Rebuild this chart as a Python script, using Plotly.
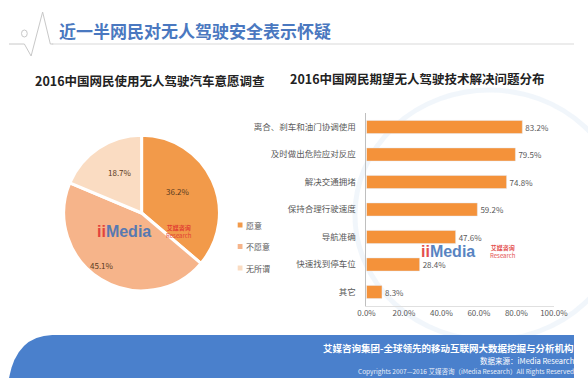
import plotly.graph_objects as go

W, H = 588, 378

title_text = "近一半网民对无人驾驶安全表示怀疑"
pie_title = "2016中国网民使用无人驾驶汽车意愿调查"
bar_title = "2016中国网民期望无人驾驶技术解决问题分布"

pie_labels = ["愿意", "不愿意", "无所谓"]
pie_values = [36.2, 45.1, 18.7]
pie_colors = ["#F29A4A", "#F6B48A", "#FADCC2"]

bar_categories = ["离合、刹车和油门协调使用", "及时做出危险应对反应", "解决交通拥堵",
                  "保持合理行驶速度", "导航准确", "快速找到停车位", "其它"]
bar_values = [83.2, 79.5, 74.8, 59.2, 47.6, 28.4, 8.3]
x_tickvals = [0, 20, 40, 60, 80, 100]
x_ticktext = ["0.0%", "20.0%", "40.0%", "60.0%", "80.0%", "100.0%"]

footer_lines = ["艾媒咨询集团-全球领先的移动互联网大数据挖掘与分析机构",
                "数据来源：iMedia Research",
                "Copyrights 2007—2016 艾媒咨询（iMedia Research）All Rights Reserved"]

FONT = "Noto Sans CJK SC, Noto Sans, sans-serif"


def px(x):
    return x / W


def py(y):
    return 1 - y / H


fig = go.Figure()

fig.add_trace(go.Pie(
    labels=pie_labels, values=pie_values, sort=False, direction="clockwise", rotation=0,
    marker=dict(colors=pie_colors, line=dict(color="white", width=3)),
    textinfo="none",
    domain=dict(x=[px(57), px(219)], y=[py(294), py(132)]),
    showlegend=False, hoverinfo="label+percent",
))

fig.add_trace(go.Bar(
    y=bar_categories, x=bar_values, orientation="h",
    marker=dict(color="#F4923A"),
    texttemplate="%{x:.1f}%", textposition="outside",
    textfont=dict(size=8, color="#595959", family=FONT),
    cliponaxis=False, showlegend=False, xaxis="x", yaxis="y",
))

shapes = []
# faint background swirl
shapes.append(dict(type="circle", xref="paper", yref="paper", x0=px(360), x1=px(640), y0=py(340), y1=py(90),
                   line=dict(color="rgba(225,235,246,0.45)", width=5), layer="below"))
# header line
shapes.append(dict(type="line", xref="paper", yref="paper", x0=px(45), x1=px(588), y0=py(44), y1=py(44),
                   line=dict(color="#D9D9D9", width=1)))
# heartbeat icon
path = "M {} {} L {} {} L {} {} L {} {} L {} {} L {} {}".format(
    px(0), py(44), px(16), py(44), px(23), py(56), px(35), py(12), px(43), py(44), px(46), py(44))
shapes.append(dict(type="path", xref="paper", yref="paper", path=path, line=dict(color="#C8C8C8", width=1)))
shapes.append(dict(type="circle", xref="paper", yref="paper", x0=px(13), x1=px(19), y0=py(37), y1=py(30),
                   line=dict(color="#C8C8C8", width=1)))
# footer band
fpath = "M {} {} Q {} {} {} {} L {} {} L {} {} Z".format(
    px(0), py(378), px(8), py(336), px(45), py(335), px(588), py(335), px(588), py(378))
shapes.append(dict(type="path", xref="paper", yref="paper", path=fpath, fillcolor="#4A80CC",
                   line=dict(width=0), layer="below"))
# legend squares
for i, c in enumerate(pie_colors):
    yc = 225 + i * 21.5
    shapes.append(dict(type="rect", xref="paper", yref="paper", x0=px(238), x1=px(243), y0=py(yc + 2.5),
                       y1=py(yc - 2.5), fillcolor=c, line=dict(width=0)))

annotations = []
annotations.append(dict(text="<b>" + title_text + "</b>", x=px(50), y=py(31), xref="paper", yref="paper",
                        xanchor="left", yanchor="middle", showarrow=False,
                        font=dict(size=17, color="#4A78C0", family=FONT)))
annotations.append(dict(text="<b>" + pie_title + "</b>", x=px(147), y=py(80), xref="paper", yref="paper",
                        xanchor="center", yanchor="middle", showarrow=False,
                        font=dict(size=12.5, color="#222222", family=FONT)))
annotations.append(dict(text="<b>" + bar_title + "</b>", x=px(425), y=py(79), xref="paper", yref="paper",
                        xanchor="center", yanchor="middle", showarrow=False,
                        font=dict(size=12.5, color="#222222", family=FONT)))
# pie value labels
pie_label_pos = [(176, 191), (97, 265), (115, 172)]
for v, (lx, ly) in zip(pie_values, pie_label_pos):
    annotations.append(dict(text="%.1f%%" % v, x=px(lx), y=py(ly), xref="paper", yref="paper",
                            xanchor="center", yanchor="middle", showarrow=False,
                            font=dict(size=8, color="#5A3A20", family=FONT)))
for i, lab in enumerate(pie_labels):
    yc = 225 + i * 21.5
    annotations.append(dict(text=lab, x=px(245), y=py(yc), xref="paper", yref="paper",
                            xanchor="left", yanchor="middle", showarrow=False,
                            font=dict(size=8, color="#595959", family=FONT)))
# watermarks
for (wx, wy) in [(89, 231), (427, 251)]:
    annotations.append(dict(text="<b><span style='color:#E03030'>ii</span>Media</b>", x=px(wx), y=py(wy),
                            xref="paper", yref="paper", xanchor="left", yanchor="middle", showarrow=False,
                            font=dict(size=16, color="#3B6FB8", family="Arial, sans-serif"), opacity=0.85))
    annotations.append(dict(text="<b>艾媒咨询</b><br>Research", x=px(wx + 72), y=py(wy), xref="paper",
                            yref="paper", xanchor="left", yanchor="middle", showarrow=False,
                            font=dict(size=6, color="#E03030", family=FONT), opacity=0.85))
# footer
annotations.append(dict(text="<b>" + footer_lines[0] + "</b>", x=px(590), y=py(348), xref="paper", yref="paper",
                        xanchor="right", yanchor="middle", showarrow=False,
                        font=dict(size=9.5, color="white", family=FONT)))
annotations.append(dict(text=footer_lines[1], x=px(590), y=py(360), xref="paper", yref="paper",
                        xanchor="right", yanchor="middle", showarrow=False,
                        font=dict(size=7.5, color="white", family=FONT)))
annotations.append(dict(text=footer_lines[2], x=px(590), y=py(371), xref="paper", yref="paper",
                        xanchor="right", yanchor="middle", showarrow=False,
                        font=dict(size=6.5, color="#E8EEF8", family=FONT)))

fig.update_layout(
    width=W, height=H, margin=dict(l=0, r=0, t=0, b=0),
    paper_bgcolor="white", plot_bgcolor="rgba(0,0,0,0)",
    font=dict(family=FONT),
    shapes=shapes, annotations=annotations,
    bargap=0.52,
    xaxis=dict(domain=[px(372), px(567)], range=[0, 100], tickvals=x_tickvals, ticktext=x_ticktext,
               showgrid=False, zeroline=False, showline=True, linecolor="#E0E0E0", linewidth=1,
               tickfont=dict(size=8, color="#595959", family=FONT), ticks="", anchor="y", fixedrange=True),
    yaxis=dict(domain=[py(305.75), py(113.25)], autorange="reversed", showgrid=False, zeroline=False,
               showline=True, linecolor="#BFBFBF", linewidth=1, ticks="", ticklabelstandoff=8,
               tickfont=dict(size=8.5, color="#595959", family=FONT), anchor="x", fixedrange=True),
)

fig.write_html("out.html", config={"displayModeBar": False},
               post_script="document.body.style.margin='0';document.body.style.overflow='hidden';")
